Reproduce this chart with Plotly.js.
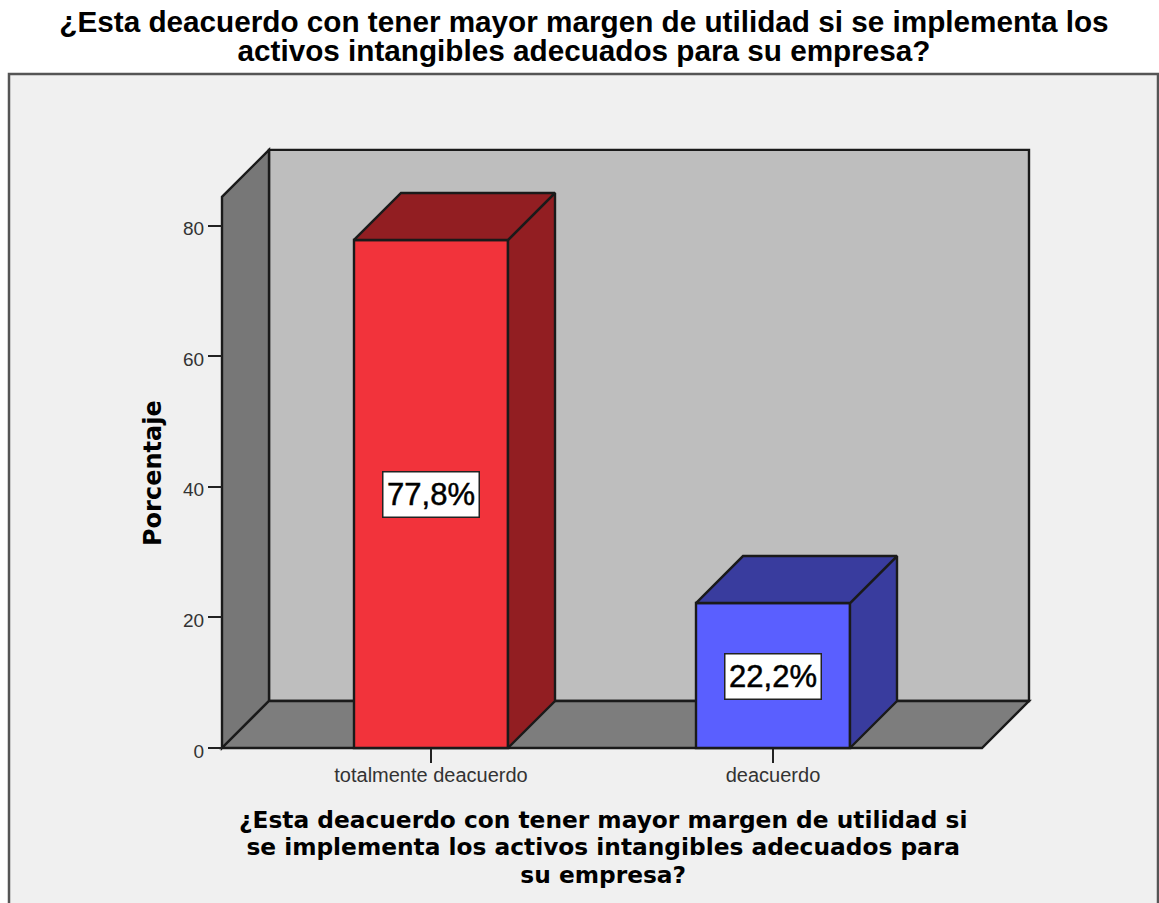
<!DOCTYPE html>
<html><head><meta charset="utf-8">
<script src="https://cdn.plot.ly/plotly-3.0.1.min.js"></script>
<style>html,body{margin:0;padding:0;background:#fff;overflow:hidden}
.value-bold{stroke:#000;stroke-width:.5px}</style>
</head><body><div id="chart" style="width:1159px;height:903px"></div>
<script>
const categories = ['totalmente deacuerdo', 'deacuerdo'];
const percentages = [77.8, 22.2];
const valueLabels = ['77,8%', '22,2%'];
const yTicks = [0, 20, 40, 60, 80];
const titleLines = ['¿Esta deacuerdo con tener mayor margen de utilidad si se implementa los', 'activos intangibles adecuados para su empresa?'];
const xTitleText = '¿Esta deacuerdo con tener mayor margen de utilidad si<br>se implementa los activos intangibles adecuados para<br>su empresa?';
const yTitleText = 'Porcentaje';

// pixel geometry of the drawing
const W = 1159, H = 903;
const ml = 218, mr = 125, mt = 146, mb = 151, pad = 4;
const pxPerCat = 342, pxPerPct = 6.53;
const plotW = W - ml - mr, plotH = H - mt - mb;
const depthX = 47 / pxPerCat, depthY = 47 / pxPerPct;
const barW = 154 / pxPerCat;
const xLeft = -209 / pxPerCat, xRight = 551 / pxPerCat;
const wallTop = 84.4 + depthY;

const edge = '#1a1a1a', edgeW = 2.4;
const wallPath = p => 'M' + p.map(q => q[0] + ' ' + q[1]).join(' L') + ' Z';
const wallShape = (pts, fill) => ({type: 'path', layer: 'below', xref: 'x', yref: 'y', path: wallPath(pts),
  fillcolor: fill, line: {color: edge, width: edgeW}});

const frontColors = ['#f2333b', '#5a5fff'];
const sideColors = ['#921e22', '#393c9e'];
const topColors = ['#921e22', '#393c9e'];

const faces = [];
percentages.forEach((v, i) => {
  const a = i - barW / 2, b = i + barW / 2;
  faces.push({type: 'scatter', mode: 'lines', x: [b, b + depthX, b + depthX, b, b], y: [0, depthY, v + depthY, v, 0],
    fill: 'toself', fillcolor: sideColors[i], line: {color: edge, width: edgeW}, hoverinfo: 'skip', showlegend: false});
  faces.push({type: 'scatter', mode: 'lines', x: [a, a + depthX, b + depthX, b, a], y: [v, v + depthY, v + depthY, v, v],
    fill: 'toself', fillcolor: topColors[i], line: {color: edge, width: edgeW}, hoverinfo: 'skip', showlegend: false});
});

const bars = {type: 'bar', x: [0, 1], y: percentages, width: barW,
  marker: {color: frontColors, line: {color: edge, width: edgeW}}, showlegend: false, hoverinfo: 'x+y'};

const layout = {
  width: W, height: H, autosize: false, showlegend: false,
  margin: {l: ml, r: mr, t: mt, b: mb, pad: 0},
  paper_bgcolor: '#ffffff', plot_bgcolor: 'rgba(0,0,0,0)',
  title: {text: titleLines.join('<br>'), x: 584 / W, xanchor: 'center', xref: 'container', y: 0.97, yanchor: 'top', yref: 'container',
    font: {family: 'Liberation Sans, Arial, sans-serif', size: 29.7, color: '#000', weight: 'bold'}},
  xaxis: {range: [xLeft - pad / pxPerCat, xLeft - pad / pxPerCat + plotW / pxPerCat], tickmode: 'array', tickvals: [0, 1], ticktext: categories,
    anchor: 'free', position: pad / plotH, showgrid: false, zeroline: false, showline: false, ticks: 'outside', ticklen: 14, tickwidth: 2, tickcolor: '#222',
    ticklabelstandoff: -5,
    tickfont: {family: 'Liberation Sans, Arial, sans-serif', size: 20, color: '#333'}, fixedrange: true},
  yaxis: {range: [-pad / pxPerPct, -pad / pxPerPct + plotH / pxPerPct], tickmode: 'array', tickvals: yTicks,
    anchor: 'free', position: pad / plotW, showgrid: false, zeroline: false, showline: false, ticks: 'outside', ticklen: 14, tickwidth: 2, tickcolor: '#222',
    ticklabelshift: 3,
    tickfont: {family: 'Liberation Sans, Arial, sans-serif', size: 19, color: '#333'}, fixedrange: true},
  shapes: [
    {type: 'rect', layer: 'below', xref: 'paper', yref: 'paper',
      x0: (9 - ml) / plotW, x1: (1158 - ml) / plotW, y0: (H - mb - 912) / plotH, y1: (H - mb - 74) / plotH,
      fillcolor: '#f0f0f0', line: {color: '#555', width: 2.5}},
    wallShape([[xLeft + depthX, depthY], [xRight + depthX, depthY], [xRight + depthX, wallTop], [xLeft + depthX, wallTop]], '#bebebe'),
    wallShape([[xLeft, 0], [xLeft + depthX, depthY], [xLeft + depthX, wallTop], [xLeft, wallTop - depthY]], '#777777'),
    wallShape([[xLeft, 0], [xRight, 0], [xRight + depthX, depthY], [xLeft + depthX, depthY]], '#7d7d7d')
  ],
  annotations: percentages.map((v, i) => ({
    x: i, y: v / 2, yshift: -1, xref: 'x', yref: 'y', text: valueLabels[i], showarrow: false,
    font: {family: 'Liberation Sans, Arial, sans-serif', size: 31, color: '#000'},
    bgcolor: '#fff', bordercolor: '#222', borderwidth: 1.5, width: 95, height: 44, align: 'center', valign: 'middle', borderpad: 0
  })).concat([
    {xref: 'paper', yref: 'paper', x: (603 - ml) / plotW, y: (H - mb - 850) / plotH, text: xTitleText, showarrow: false,
      xanchor: 'center', yanchor: 'middle', align: 'center',
      font: {family: 'DejaVu Sans, sans-serif', size: 23.3, color: '#000', weight: 'bold'}},
    {xref: 'paper', yref: 'paper', x: (153 - ml) / plotW, y: (H - mb - 473) / plotH, text: yTitleText, showarrow: false, textangle: -90,
      xanchor: 'center', yanchor: 'middle',
      font: {family: 'DejaVu Sans, sans-serif', size: 24, color: '#000', weight: 'bold'}}
  ])
};

Plotly.newPlot('chart', [bars].concat(faces), layout, {displayModeBar: false, staticPlot: true}).then(() => {
  // tighter line spacing than Plotly's fixed 1.3em, as in the reference
  const title = document.querySelector('.gtitle');
  title.setAttribute('y', 32);
  title.querySelectorAll('tspan.line').forEach((t, i) => { t.setAttribute('y', 32); t.setAttribute('dy', (i * 0.96) + 'em'); });
  document.querySelectorAll('.annotation-text').forEach(t => {
    const lines = t.querySelectorAll('tspan.line');
    if (lines.length === 3) lines.forEach((l, i) => l.setAttribute('dy', (i * 1.18) + 'em'));
    if (valueLabels.includes(t.textContent)) t.classList.add('value-bold');
  });
});
</script></body></html>
